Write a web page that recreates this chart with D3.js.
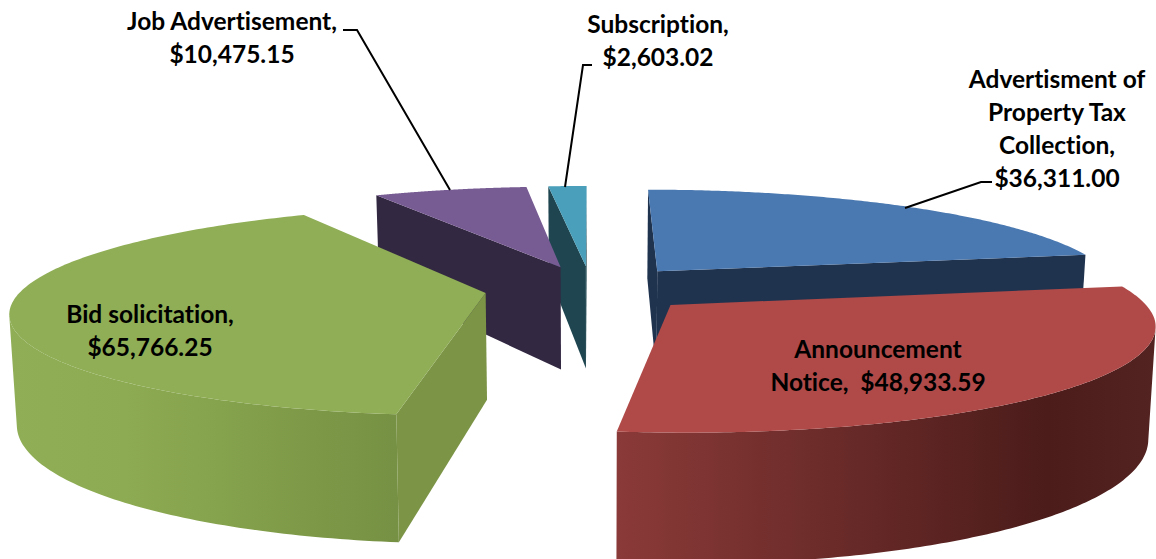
<!DOCTYPE html>
<html><head><meta charset="utf-8">
<script src="https://cdnjs.cloudflare.com/ajax/libs/d3/7.8.5/d3.min.js"></script>
<style>html,body{margin:0;padding:0;background:#fff;overflow:hidden}svg{display:block}
text{font-family:Lato,"Open Sans",sans-serif;font-weight:700;font-size:24.5px;fill:#000;font-variant-ligatures:none}</style>
</head><body><svg width="1156" height="559"></svg>
<script>
const categories=["Advertisment of Property Tax Collection","Announcement Notice","Bid solicitation","Job Advertisement","Subscription"];
const values=[36311.00,48933.59,65766.25,10475.15,2603.02];
const topColors=["#4a78b0","#af4a48","#8fae55","#775b93","#4a9fba"];
const sideColors=["#1f334f","#7c2f2e","#7c9446","#332842","#1f4650"];
const wallStops=[null,[["0%","#8a3a38"],["80%","#4b1c1a"],["100%","#532321"]],[["0%","#8fae55"],["30%","#8dab52"],["100%","#769143"]],null,null];
const labels=[
 {lines:["Advertisment of","Property Tax","Collection,","$36,311.00"],x:1057,y:88},
 {lines:["Announcement","Notice,  $48,933.59"],x:878,y:358},
 {lines:["Bid solicitation,","$65,766.25"],x:150,y:323},
 {lines:["Job Advertisement,","$10,475.15"],x:232,y:30},
 {lines:["Subscription,","$2,603.02"],x:658,y:33}];
const leaders=[
 [[905,208],[981,182],[992,182]],
 [[343,30],[357,30],[450,190]],
 [[592,65],[583,65],[565,187]]];
const view={cx:591,cy:288.6,rx:463,ry:100.5,persp:0.166,height:106,explode:0.23,baseShrink:0.987};

const svg=d3.select("svg"),defs=svg.append("defs");
const pie=d3.pie().sort(null).value(d=>d).startAngle(0).endAngle(2*Math.PI);
const arcs=pie(values);
const sx=d3.scaleLinear().domain([0,1]).range([view.cx,view.cx+view.rx]);
const sy=d3.scaleLinear().domain([0,1]).range([view.cy,view.cy-view.ry]);
function proj(X,Y,down){const s=1/(1+view.persp*Y);
 const k=down?view.baseShrink:1;
 return [view.cx+(sx(X)-view.cx)*s*k, sy(Y*s)+(down?view.height*s:0)];}
const line=d3.line();
const camY=-1/view.persp;
const order=[4,3,0,2,1];
order.forEach(i=>{
 const a=arcs[i],mid=(a.startAngle+a.endAngle)/2;
 const ox=view.explode*Math.sin(mid),oy=view.explode*Math.cos(mid);
 const pt=(ang,down)=>proj(ox+Math.sin(ang),oy+Math.cos(ang),down);
 const apex=d=>proj(ox,oy,d);
 const angs=d3.range(0,161).map(k=>a.startAngle+(a.endAngle-a.startAngle)*k/160);
 const g=svg.append("g").attr("class","slice");
 const top=angs.map(t=>pt(t,false));
 // only the part of the rim that faces the camera
 const front=angs.filter(t=>{const sn=Math.sin(t),cs=Math.cos(t);
   return sn*(0-(ox+sn))+cs*(camY-(oy+cs))>0;});
 let wallFill=sideColors[i];
 if(front.length>1){
  if(wallStops[i]){
   const xs=front.map(t=>pt(t,false)[0]);
   const grad=defs.append("linearGradient").attr("id","w"+i).attr("gradientUnits","userSpaceOnUse")
    .attr("x1",d3.min(xs)).attr("x2",d3.max(xs)).attr("y1",0).attr("y2",0);
   grad.selectAll("stop").data(wallStops[i]).join("stop").attr("offset",d=>d[0]).attr("stop-color",d=>d[1]);
   wallFill=`url(#w${i})`;
  }
  const ft=front.map(t=>pt(t,false)),fb=front.map(t=>pt(t,true));
  g.append("path").attr("d",line(ft.concat(fb.reverse()))+"Z").attr("fill",wallFill);
 }
 [[a.startAngle,-1],[a.endAngle,1]].forEach(([t,sgn])=>{
  const nx=sgn*Math.cos(t),ny=-sgn*Math.sin(t);
  if(nx*(0-ox)+ny*(camY-oy)>0)
   g.append("path").attr("d",line([apex(false),pt(t,false),pt(t,true),apex(true)])+"Z").attr("fill",sideColors[i]);
 });
 g.append("path").attr("d",line([apex(false)].concat(top))+"Z").attr("fill",topColors[i]);
});
svg.append("g").selectAll("path").data(leaders).join("path")
 .attr("d",d=>line(d)).attr("fill","none").attr("stroke","#000").attr("stroke-width",2);
const lh=33;
labels.forEach(l=>{
 const t=svg.append("text").attr("text-anchor","middle").style("white-space","pre");
 l.lines.forEach((s,k)=>t.append("tspan").attr("x",l.x).attr("y",l.y+k*lh).text(s));
});
</script></body></html>
